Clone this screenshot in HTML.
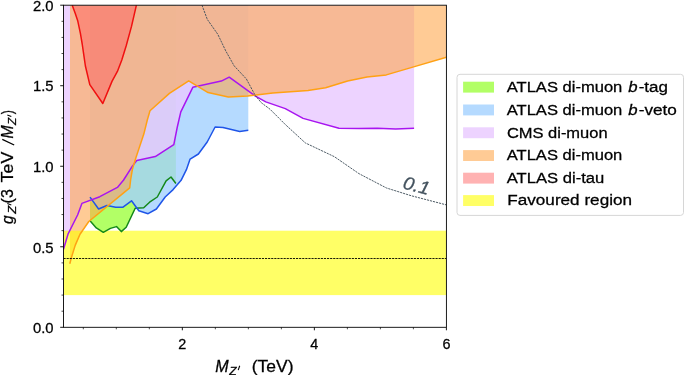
<!DOCTYPE html>
<html><head><meta charset="utf-8"><title>chart</title>
<style>html,body{margin:0;padding:0;background:#fff;width:685px;height:375px;overflow:hidden}body{position:relative;font-family:"Liberation Sans",sans-serif}</style>
</head><body>
<svg width="685" height="375" viewBox="0 0 685 375" style="position:absolute;left:0;top:0;display:block" font-family="Liberation Sans, sans-serif">
<rect x="0" y="0" width="685" height="375" fill="#fff"/>
<clipPath id="ax"><rect x="63.5" y="5.2" width="382.9" height="322.1"/></clipPath>
<g clip-path="url(#ax)">
<polygon points="90.0,5.2 90.0,220.8 96.3,227.9 103.3,232.3 110.4,228.4 116.5,226.6 121.3,231.6 126.2,227.2 135.2,208.3 143.7,207.8 149.6,202.2 157.3,197.0 166.1,180.8 171.0,177.0 175.9,183.5 175.9,5.2" fill="#7fff00" fill-opacity="0.6"/>
<polygon points="90.0,5.2 90.0,197.1 98.6,209.0 106.9,205.5 115.7,207.3 122.7,207.3 131.5,200.8 138.8,210.7 148.1,213.7 156.4,209.0 165.2,197.0 173.1,189.6 181.1,180.3 186.4,169.7 190.1,159.1 198.4,154.0 207.2,142.0 215.1,127.0 223.0,127.4 239.7,131.4 248.3,130.2 248.3,5.2" fill="#a2d1ff" fill-opacity="0.8"/>
<polygon points="63.5,5.2 63.5,249.2 68.0,234.2 77.6,215.0 81.9,203.4 99.8,196.7 117.4,187.4 123.6,180.0 132.4,166.1 136.8,160.5 155.3,156.6 173.8,144.6 177.3,127.0 180.8,111.9 192.8,87.3 221.3,81.1 229.2,77.2 255.4,96.1 265.8,101.9 285.3,108.6 303.1,118.4 339.0,128.2 358.9,128.5 377.3,128.2 395.7,129.1 414.1,128.2 414.1,5.2" fill="#e9c8ff" fill-opacity="0.8"/>
<polygon points="70.0,5.2 70.0,263.8 69.8,263.8 71.2,258.2 75.2,245.4 80.0,234.2 88.8,221.5 129.7,187.9 130.6,180.0 132.4,169.3 135.9,157.8 143.8,134.1 147.3,120.0 150.0,110.7 169.4,93.4 188.7,80.8 208.1,92.6 228.3,97.0 247.7,96.1 272.8,93.1 308.0,90.5 325.6,87.8 347.6,81.0 367.0,77.0 386.3,74.9 414.5,66.6 446.4,57.3 446.4,5.2" fill="#ffa648" fill-opacity="0.58"/>
<polygon points="72.2,5.2 75.2,13.2 77.8,21.1 80.4,33.4 82.2,44.0 84.0,56.3 85.4,66.0 89.8,84.6 102.8,103.5 112.1,81.1 117.4,71.4 121.8,60.0 126.2,45.7 131.5,26.4 136.4,5.2" fill="#ff5b5b" fill-opacity="0.47"/>
<rect x="63.5" y="230.7" width="382.9" height="64.4" fill="#ffff00" fill-opacity="0.6"/>
<polyline points="90.0,220.8 96.3,227.9 103.3,232.3 110.4,228.4 116.5,226.6 121.3,231.6 126.2,227.2 135.2,208.3 143.7,207.8 149.6,202.2 157.3,197.0 166.1,180.8 171.0,177.0 175.9,183.5" fill="none" stroke="#14881a" stroke-width="1.5" stroke-linejoin="round" stroke-linecap="butt" />
<polyline points="90.0,197.1 98.6,209.0 106.9,205.5 115.7,207.3 122.7,207.3 131.5,200.8 138.8,210.7 148.1,213.7 156.4,209.0 165.2,197.0 173.1,189.6 181.1,180.3 186.4,169.7 190.1,159.1 198.4,154.0 207.2,142.0 215.1,127.0 223.0,127.4 239.7,131.4 248.3,130.2" fill="none" stroke="#1f55e8" stroke-width="1.5" stroke-linejoin="round" stroke-linecap="butt" />
<polyline points="63.5,249.2 68.0,234.2 77.6,215.0 81.9,203.4 99.8,196.7 117.4,187.4 123.6,180.0 132.4,166.1 136.8,160.5 155.3,156.6 173.8,144.6 177.3,127.0 180.8,111.9 192.8,87.3 221.3,81.1 229.2,77.2 255.4,96.1 265.8,101.9 285.3,108.6 303.1,118.4 339.0,128.2 358.9,128.5 377.3,128.2 395.7,129.1 414.1,128.2" fill="none" stroke="#a815f0" stroke-width="1.5" stroke-linejoin="round" stroke-linecap="butt" />
<polyline points="69.8,263.8 71.2,258.2 75.2,245.4 80.0,234.2 88.8,221.5 129.7,187.9 130.6,180.0 132.4,169.3 135.9,157.8 143.8,134.1 147.3,120.0 150.0,110.7 169.4,93.4 188.7,80.8 208.1,92.6 228.3,97.0 247.7,96.1 272.8,93.1 308.0,90.5 325.6,87.8 347.6,81.0 367.0,77.0 386.3,74.9 414.5,66.6 446.4,57.3" fill="none" stroke="#ffa114" stroke-width="1.5" stroke-linejoin="round" stroke-linecap="butt" />
<polyline points="72.2,5.2 75.2,13.2 77.8,21.1 80.4,33.4 82.2,44.0 84.0,56.3 85.4,66.0 89.8,84.6 102.8,103.5 112.1,81.1 117.4,71.4 121.8,60.0 126.2,45.7 131.5,26.4 136.4,5.2" fill="none" stroke="#f01010" stroke-width="1.5" stroke-linejoin="round" stroke-linecap="butt" />
<polyline points="202.0,5.2 207.3,19.4 217.8,34.3 225.8,51.0 234.1,65.8 246.4,79.0 255.2,95.4 261.4,102.8 270.0,109.2 285.3,124.5 305.3,142.9 334.4,156.7 358.9,173.6 386.5,188.0 411.1,195.7 446.4,204.9" fill="none" stroke="#46545f" stroke-width="0.95" stroke-linejoin="round" stroke-linecap="butt" stroke-dasharray="2.2 0.9"/>
<line x1="63.5" x2="446.4" y1="258.5" y2="258.5" stroke="#000" stroke-width="0.9" stroke-dasharray="2.15 0.95"/>
</g>
<g opacity="0.999">
<g transform="translate(416.5 185.3) rotate(14.5)">
<text x="-13.40" y="6.50" font-size="18.3" textLength="26.99" lengthAdjust="spacingAndGlyphs" fill="#44535f" font-style="italic" stroke="#44535f" stroke-width="0.3">0.1</text>
</g>
<rect x="63.5" y="5.2" width="382.9" height="322.1" fill="none" stroke="#000" stroke-width="0.9"/>
<path d="M60.2,327.30H63.5 M60.2,246.78H63.5 M60.2,166.25H63.5 M60.2,85.72H63.5 M60.2,5.20H63.5 M182.33,327.3V330.3 M314.37,327.3V330.3 M446.40,327.3V330.3" stroke="#000" stroke-width="0.9" fill="none"/>
<path d="M61.5,311.19H63.5 M61.5,295.09H63.5 M61.5,278.99H63.5 M61.5,262.88H63.5 M61.5,230.67H63.5 M61.5,214.56H63.5 M61.5,198.46H63.5 M61.5,182.35H63.5 M61.5,150.14H63.5 M61.5,134.04H63.5 M61.5,117.94H63.5 M61.5,101.83H63.5 M61.5,69.62H63.5 M61.5,53.51H63.5 M61.5,37.41H63.5 M61.5,21.30H63.5 M83.31,327.3V329.3 M116.31,327.3V329.3 M149.32,327.3V329.3 M215.34,327.3V329.3 M248.35,327.3V329.3 M281.36,327.3V329.3 M347.37,327.3V329.3 M380.38,327.3V329.3 M413.39,327.3V329.3" stroke="#000" stroke-width="0.7" fill="none"/>
<text x="32.90" y="333.05" font-size="14.4" textLength="20.60" lengthAdjust="spacingAndGlyphs" fill="#000" stroke="#000" stroke-width="0.28">0.0</text>
<text x="32.90" y="252.53" font-size="14.4" textLength="20.60" lengthAdjust="spacingAndGlyphs" fill="#000" stroke="#000" stroke-width="0.28">0.5</text>
<text x="32.90" y="172.00" font-size="14.4" textLength="20.60" lengthAdjust="spacingAndGlyphs" fill="#000" stroke="#000" stroke-width="0.28">1.0</text>
<text x="32.90" y="91.47" font-size="14.4" textLength="20.60" lengthAdjust="spacingAndGlyphs" fill="#000" stroke="#000" stroke-width="0.28">1.5</text>
<text x="32.90" y="10.95" font-size="14.4" textLength="20.60" lengthAdjust="spacingAndGlyphs" fill="#000" stroke="#000" stroke-width="0.28">2.0</text>
<text x="178.33" y="349.40" font-size="14.4" textLength="8.01" lengthAdjust="spacingAndGlyphs" fill="#000" stroke="#000" stroke-width="0.28">2</text>
<text x="310.37" y="349.40" font-size="14.4" textLength="8.01" lengthAdjust="spacingAndGlyphs" fill="#000" stroke="#000" stroke-width="0.28">4</text>
<text x="442.40" y="349.40" font-size="14.4" textLength="8.01" lengthAdjust="spacingAndGlyphs" fill="#000" stroke="#000" stroke-width="0.28">6</text>
<text x="215.20" y="371.70" font-size="15.6" textLength="13.39" lengthAdjust="spacingAndGlyphs" fill="#000" font-style="italic" stroke="#000" stroke-width="0.28">M</text>
<text x="229.37" y="374.70" font-size="11.3" textLength="7.37" lengthAdjust="spacingAndGlyphs" fill="#000" font-style="italic" stroke="#000" stroke-width="0.28">Z</text>
<path d="M239.7,365.8L238.2,370.1" stroke="#000" stroke-width="1.1" fill="none"/>
<text x="251.80" y="371.70" font-size="15.6" textLength="41.71" lengthAdjust="spacingAndGlyphs" fill="#000" stroke="#000" stroke-width="0.28">(TeV)</text>
<g transform="translate(12.9 224) rotate(-90)">
<text x="0.10" y="0.00" font-size="15.6" textLength="8.59" lengthAdjust="spacingAndGlyphs" fill="#000" font-style="italic" stroke="#000" stroke-width="0.28">g</text>
<text x="10.18" y="3.30" font-size="11.3" textLength="7.83" lengthAdjust="spacingAndGlyphs" fill="#000" font-style="italic" stroke="#000" stroke-width="0.28">Z</text>
<path d="M20.4,-5.6L19.0,-1.6" stroke="#000" stroke-width="1.1" fill="none"/>
<text x="20.60" y="0.00" font-size="15.6" textLength="14.19" lengthAdjust="spacingAndGlyphs" fill="#000" stroke="#000" stroke-width="0.28">(3</text>
<text x="41.60" y="0.00" font-size="15.6" textLength="30.69" lengthAdjust="spacingAndGlyphs" fill="#000" stroke="#000" stroke-width="0.28">TeV</text>
<path d="M79.0,1.3L84.6,-10.6" stroke="#000" stroke-width="1.25" fill="none"/>
<text x="85.40" y="0.00" font-size="15.6" textLength="13.19" lengthAdjust="spacingAndGlyphs" fill="#000" font-style="italic" stroke="#000" stroke-width="0.28">M</text>
<text x="99.06" y="3.20" font-size="11.3" textLength="7.19" lengthAdjust="spacingAndGlyphs" fill="#000" font-style="italic" stroke="#000" stroke-width="0.28">Z</text>
<path d="M108.9,-5.6L107.5,-1.6" stroke="#000" stroke-width="1.1" fill="none"/>
<text x="109.70" y="0.00" font-size="15.6" textLength="4.10" lengthAdjust="spacingAndGlyphs" fill="#000" stroke="#000" stroke-width="0.28">)</text>
</g>
<rect x="457.0" y="74.3" width="226.5" height="141.1" rx="3" ry="3" fill="#fff" fill-opacity="0.8" stroke="#d6d6d6" stroke-width="1"/>
<rect x="463.1" y="81.7" width="30.9" height="10.9" fill="#7fff00" fill-opacity="0.6"/>
<text x="506.75" y="91.90" font-size="15.4" textLength="115.56" lengthAdjust="spacingAndGlyphs" fill="#000" stroke="#000" stroke-width="0.28">ATLAS di-muon</text>
<text x="628.30" y="91.90" font-size="15.4" textLength="9.31" lengthAdjust="spacingAndGlyphs" fill="#000" font-style="italic" stroke="#000" stroke-width="0.28">b</text>
<text x="638.70" y="91.90" font-size="15.4" textLength="29.28" lengthAdjust="spacingAndGlyphs" fill="#000" stroke="#000" stroke-width="0.28">-tag</text>
<rect x="463.1" y="104.5" width="30.9" height="10.9" fill="#a2d1ff" fill-opacity="0.8"/>
<text x="506.75" y="114.70" font-size="15.4" textLength="115.56" lengthAdjust="spacingAndGlyphs" fill="#000" stroke="#000" stroke-width="0.28">ATLAS di-muon</text>
<text x="628.30" y="114.70" font-size="15.4" textLength="9.31" lengthAdjust="spacingAndGlyphs" fill="#000" font-style="italic" stroke="#000" stroke-width="0.28">b</text>
<text x="638.70" y="114.70" font-size="15.4" textLength="38.20" lengthAdjust="spacingAndGlyphs" fill="#000" stroke="#000" stroke-width="0.28">-veto</text>
<rect x="463.1" y="127.3" width="30.9" height="10.9" fill="#e9c8ff" fill-opacity="0.8"/>
<text x="506.90" y="137.50" font-size="15.4" textLength="100.69" lengthAdjust="spacingAndGlyphs" fill="#000" stroke="#000" stroke-width="0.28">CMS di-muon</text>
<rect x="463.1" y="150.1" width="30.9" height="10.9" fill="#ffa648" fill-opacity="0.58"/>
<text x="506.75" y="160.30" font-size="15.4" textLength="115.56" lengthAdjust="spacingAndGlyphs" fill="#000" stroke="#000" stroke-width="0.28">ATLAS di-muon</text>
<rect x="463.1" y="172.7" width="30.9" height="10.9" fill="#ff5b5b" fill-opacity="0.47"/>
<text x="506.75" y="182.90" font-size="15.4" textLength="97.56" lengthAdjust="spacingAndGlyphs" fill="#000" stroke="#000" stroke-width="0.28">ATLAS di-tau</text>
<rect x="463.1" y="195.1" width="30.9" height="10.9" fill="#ffff00" fill-opacity="0.6"/>
<text x="507.30" y="205.30" font-size="15.4" textLength="124.71" lengthAdjust="spacingAndGlyphs" fill="#000" stroke="#000" stroke-width="0.28">Favoured region</text>
</g>
</svg>
</body></html>
